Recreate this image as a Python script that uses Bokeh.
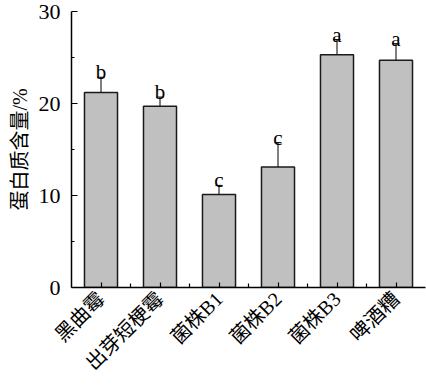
import math
from bokeh.plotting import figure
from bokeh.models import Range1d, FixedTicker, Whisker, TeeHead, ColumnDataSource
from bokeh.core.properties import value
from bokeh.embed import file_html
from bokeh.resources import INLINE

categories = ["黑曲霉", "出芽短梗霉", "菌株B1", "菌株B2", "菌株B3", "啤酒糟"]
protein = [21.2, 19.7, 10.1, 13.1, 25.3, 24.7]
errors = [1.65, 1.0, 1.0, 2.65, 1.65, 1.8]
letters = ["b", "b", "c", "c", "a", "a"]
y_ticks = [0, 10, 20, 30]
y_minor = [5, 15, 25]

FONT = "'Liberation Serif', 'Noto Sans CJK SC'"

xs = [i + 0.5 for i in range(len(categories))]
bounds = [i for i in range(1, len(categories))]
src = ColumnDataSource(dict(
    x=xs, y=protein,
    lo=[v - e for v, e in zip(protein, errors)],
    hi=[v + e for v, e in zip(protein, errors)],
    lab=letters,
))

p = figure(width=426, height=391, output_backend="svg", toolbar_location=None,
           x_range=Range1d(0, len(categories)), y_range=Range1d(0, 30),
           min_border_left=71, min_border_top=11, min_border_right=1,
           min_border_bottom=104)
p.outline_line_color = None
p.grid.visible = False
p.background_fill_color = "white"

p.vbar(x="x", top="y", width=0.56, source=src, fill_color="#c0c0c0",
       line_color="#1a1a1a", line_width=1.5)

w = Whisker(base="x", lower="lo", upper="hi", source=src, line_color="black",
            line_width=1,
            upper_head=TeeHead(size=7, line_color="black", line_width=1),
            lower_head=TeeHead(size=7, line_color="black", line_width=1))
p.add_layout(w)

p.text(x="x", y="hi", text="lab", source=src, text_align="center",
       text_baseline="alphabetic", y_offset=-5,
       text_font=value(FONT), text_font_size="21px", text_color="black")

xa = p.xaxis[0]
xa.ticker = FixedTicker(ticks=xs, minor_ticks=bounds)
xa.major_label_overrides = {x: c for x, c in zip(xs, categories)}
xa.major_label_orientation = math.pi / 4
xa.major_tick_in = 5
xa.major_tick_out = 0
xa.minor_tick_in = 4
xa.minor_tick_out = 0
xa.axis_line_width = 1.5
xa.major_tick_line_width = 1.2
xa.minor_tick_line_width = 1.2
xa.major_label_text_font = FONT
xa.major_label_text_font_size = "20px"
xa.major_label_text_color = "black"
xa.major_label_standoff = 8

ya = p.yaxis[0]
ya.ticker = FixedTicker(ticks=y_ticks, minor_ticks=y_minor)
ya.major_tick_in = 6
ya.major_tick_out = 0
ya.minor_tick_in = 3
ya.minor_tick_out = 0
ya.axis_line_width = 1.5
ya.major_tick_line_width = 1.2
ya.minor_tick_line_width = 1.2
ya.major_label_text_font = FONT
ya.major_label_text_font_size = "22px"
ya.major_label_text_color = "black"
ya.major_label_standoff = 11
ya.axis_label = "蛋白质含量/%"
ya.axis_label_text_font = FONT
ya.axis_label_text_font_size = "20px"
ya.axis_label_text_font_style = "normal"
ya.axis_label_text_color = "black"
ya.axis_label_standoff = 5

open("out.html", "w").write(file_html(p, INLINE))
